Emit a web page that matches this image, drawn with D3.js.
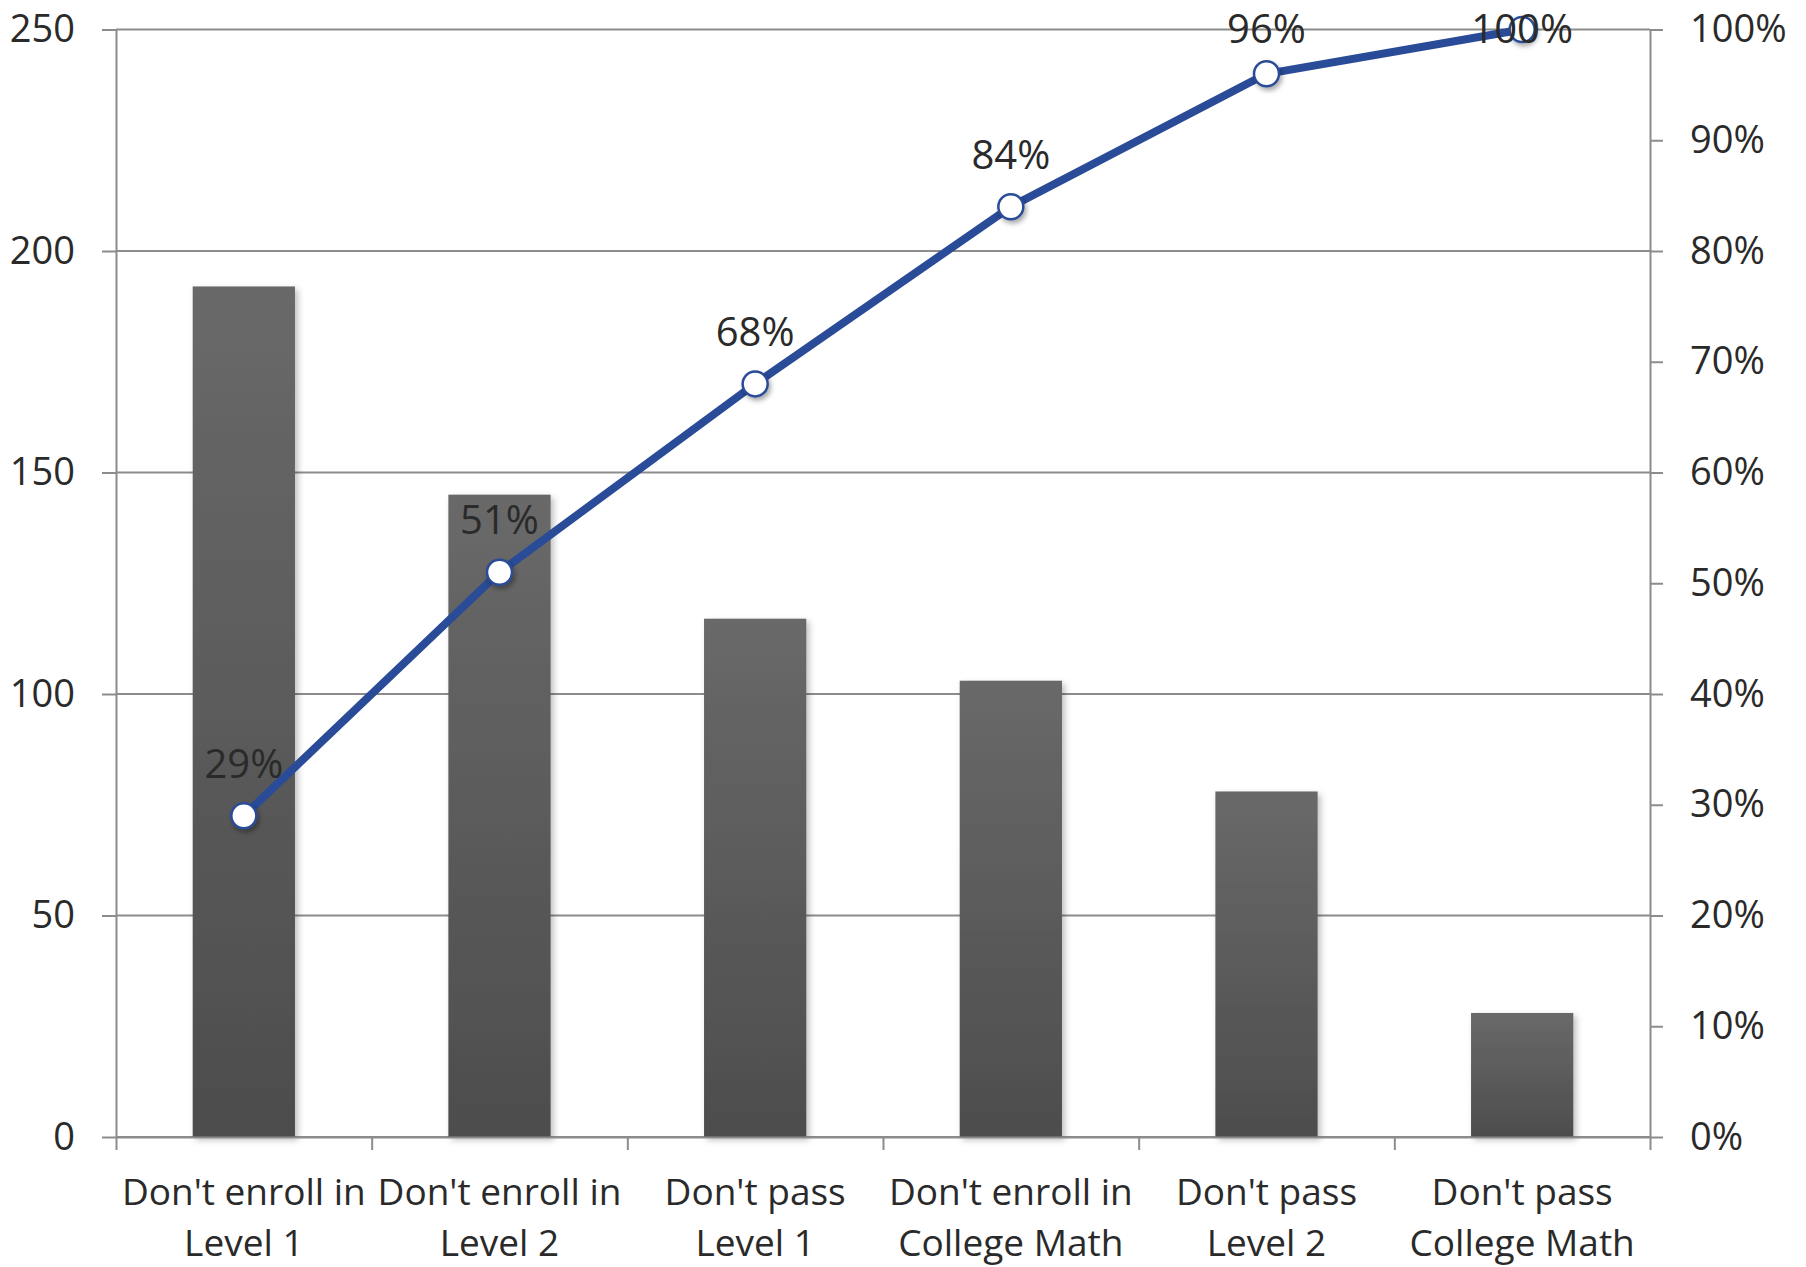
<!DOCTYPE html>
<html>
<head>
<meta charset="utf-8">
<script src="https://cdn.jsdelivr.net/npm/d3@7"></script>
<style>
  html, body { margin: 0; padding: 0; background: #ffffff; }
  svg { display: block; font-family: "Open Sans", "Noto Sans", sans-serif; }
</style>
</head>
<body>
<svg id="chart" width="1806" height="1267"></svg>
<script>
// Pareto chart: student counts per barrier, with cumulative share line
const categories = [
  ["Don't enroll in", "Level 1"],
  ["Don't enroll in", "Level 2"],
  ["Don't pass", "Level 1"],
  ["Don't enroll in", "College Math"],
  ["Don't pass", "Level 2"],
  ["Don't pass", "College Math"]
];
const counts = [192, 145, 117, 103, 78, 28];
const cumulativePct = [29, 51, 68, 84, 96, 100];
const countTicks = [0, 50, 100, 150, 200, 250];
const pctTicks = [0, 10, 20, 30, 40, 50, 60, 70, 80, 90, 100];

(function () {
const svg = d3.select("#chart");
const plotLeft = 116, plotRight = 1650, plotTop = 29.5, plotBottom = 1137;
const gridColor = "#8c8c8c";
const textColor = "#2a2a2a";
const lineColor = "#2a4b97";

const keys = categories.map((c, i) => i);
const x = d3.scaleBand().domain(keys).range([plotLeft, plotRight])
  .paddingInner(0.6).paddingOuter(0.3);
const xEdge = d3.scaleLinear().domain([0, categories.length]).range([plotLeft, plotRight]);
const y = d3.scaleLinear().domain([0, 250]).range([plotBottom, plotTop]);
const yPct = d3.scaleLinear().domain([0, 100]).range([plotBottom, plotTop]);

// defs: bar gradient and soft shadows
const defs = svg.append("defs");
const grad = defs.append("linearGradient").attr("id", "barGrad")
  .attr("x1", 0).attr("y1", 0).attr("x2", 0).attr("y2", 1);
grad.append("stop").attr("offset", "0%").attr("stop-color", "#696969");
grad.append("stop").attr("offset", "100%").attr("stop-color", "#4d4d4d");

const shadow = defs.append("filter").attr("id", "shadow")
  .attr("x", "-20%").attr("y", "-20%").attr("width", "150%").attr("height", "150%");
shadow.append("feDropShadow").attr("dx", 3).attr("dy", 3)
  .attr("stdDeviation", 3).attr("flood-color", "#000").attr("flood-opacity", 0.25);

const mshadow = defs.append("filter").attr("id", "mshadow")
  .attr("x", "-60%").attr("y", "-60%").attr("width", "250%").attr("height", "250%");
mshadow.append("feDropShadow").attr("dx", 2).attr("dy", 3)
  .attr("stdDeviation", 2.5).attr("flood-color", "#000").attr("flood-opacity", 0.35);

// horizontal gridlines
svg.append("g").selectAll("line").data(countTicks).join("line")
  .attr("x1", plotLeft).attr("x2", plotRight)
  .attr("y1", d => y(d)).attr("y2", d => y(d))
  .attr("stroke", gridColor).attr("stroke-width", 2);

// bars
svg.append("g").selectAll("rect").data(counts).join("rect")
  .attr("x", (d, i) => x(i))
  .attr("y", d => y(d))
  .attr("width", x.bandwidth())
  .attr("height", d => y(0) - y(d))
  .attr("fill", "url(#barGrad)")
  .attr("filter", "url(#shadow)");

function styleAxis(g, size) {
  g.attr("font-family", null).attr("font-size", size);
  g.selectAll(".domain").attr("stroke", gridColor).attr("stroke-width", 2);
  g.selectAll(".tick line").attr("stroke", gridColor).attr("stroke-width", 2);
  g.selectAll(".tick text").attr("fill", textColor);
}

// left count axis
svg.append("g").attr("transform", `translate(${plotLeft},0)`)
  .call(d3.axisLeft(y).tickValues(countTicks).tickSize(14).tickPadding(27).tickSizeOuter(0))
  .call(g => styleAxis(g, 38));

// right percentage axis
svg.append("g").attr("transform", `translate(${plotRight},0)`)
  .call(d3.axisRight(yPct).tickValues(pctTicks).tickSize(13).tickPadding(27)
    .tickSizeOuter(0).tickFormat(d => d + "%"))
  .call(g => styleAxis(g, 38));

// bottom axis with ticks between categories
svg.append("g").attr("transform", `translate(0,${plotBottom})`)
  .call(d3.axisBottom(xEdge).tickValues(d3.range(categories.length + 1))
    .tickSize(13).tickSizeOuter(0).tickFormat(""))
  .call(g => styleAxis(g, 37));

// category labels (two lines each)
const catG = svg.append("g").attr("font-size", 37).attr("fill", textColor)
  .attr("text-anchor", "middle");
categories.forEach((lines, i) => {
  const t = catG.append("text").attr("x", x(i) + x.bandwidth() / 2);
  lines.forEach((s, j) => {
    t.append("tspan").attr("x", x(i) + x.bandwidth() / 2)
      .attr("y", 1205 + j * 51).text(s);
  });
});

// cumulative line
const cx = i => x(i) + x.bandwidth() / 2;
svg.append("path")
  .datum(cumulativePct)
  .attr("d", d3.line().x((d, i) => cx(i)).y(d => yPct(d)))
  .attr("fill", "none").attr("stroke", lineColor).attr("stroke-width", 8)
  .attr("stroke-linejoin", "round");

// markers
svg.append("g").selectAll("circle").data(cumulativePct).join("circle")
  .attr("cx", (d, i) => cx(i)).attr("cy", d => yPct(d)).attr("r", 12.5)
  .attr("fill", "#ffffff").attr("stroke", lineColor).attr("stroke-width", 2.5)
  .attr("filter", "url(#mshadow)");

// data labels above markers, kept inside the top edge
svg.append("g").attr("font-size", 40).attr("fill", textColor).attr("text-anchor", "middle")
  .selectAll("text").data(cumulativePct).join("text")
  .attr("x", (d, i) => cx(i))
  .attr("y", d => Math.max(yPct(d) - 52, 29))
  .attr("dy", "0.357em")
  .text(d => d + "%");
})();
</script>
</body>
</html>
